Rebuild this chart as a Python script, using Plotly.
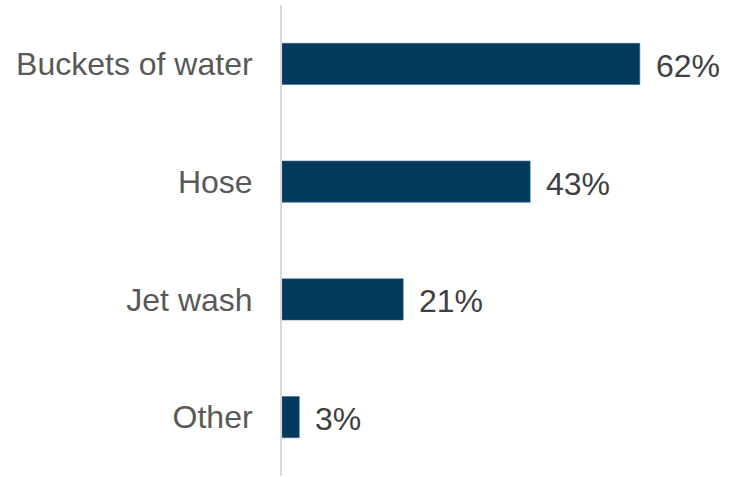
import plotly.graph_objects as go

# Washing methods and share of respondents (%)
categories = ["Buckets of water", "Hose", "Jet wash", "Other"]
values = [62, 43, 21, 3]
value_labels = [f"{v}%" for v in values]

bar_color = "#023A5D"
font_family = "Liberation Sans, Arial, sans-serif"

fig = go.Figure(
    go.Bar(
        x=values,
        y=categories,
        orientation="h",
        marker=dict(color=bar_color, line=dict(color="#3E6A88", width=0.6)),
        width=0.35,
        hoverinfo="skip",
    )
)

# Percentage labels to the right of each bar
for cat, v, lab in zip(categories, values, value_labels):
    fig.add_annotation(
        x=v, y=cat, text=lab, showarrow=False,
        xanchor="left", yanchor="middle", xshift=14, yshift=-2,
        font=dict(family=font_family, size=32, color="#404040"),
    )

fig.update_layout(
    width=729,
    height=477,
    margin=dict(l=282, r=43, t=5, b=1),
    paper_bgcolor="white",
    plot_bgcolor="white",
    showlegend=False,
    xaxis=dict(range=[0, 70], visible=False),
    yaxis=dict(
        categoryorder="array",
        categoryarray=categories[::-1],
        showline=True,
        linecolor="#D9D9D9",
        linewidth=2,
        showgrid=False,
        zeroline=False,
        ticks="",
        ticklabelstandoff=21,
        tickfont=dict(family=font_family, size=32, color="#595959"),
    ),
)

fig.write_html("out.html")
